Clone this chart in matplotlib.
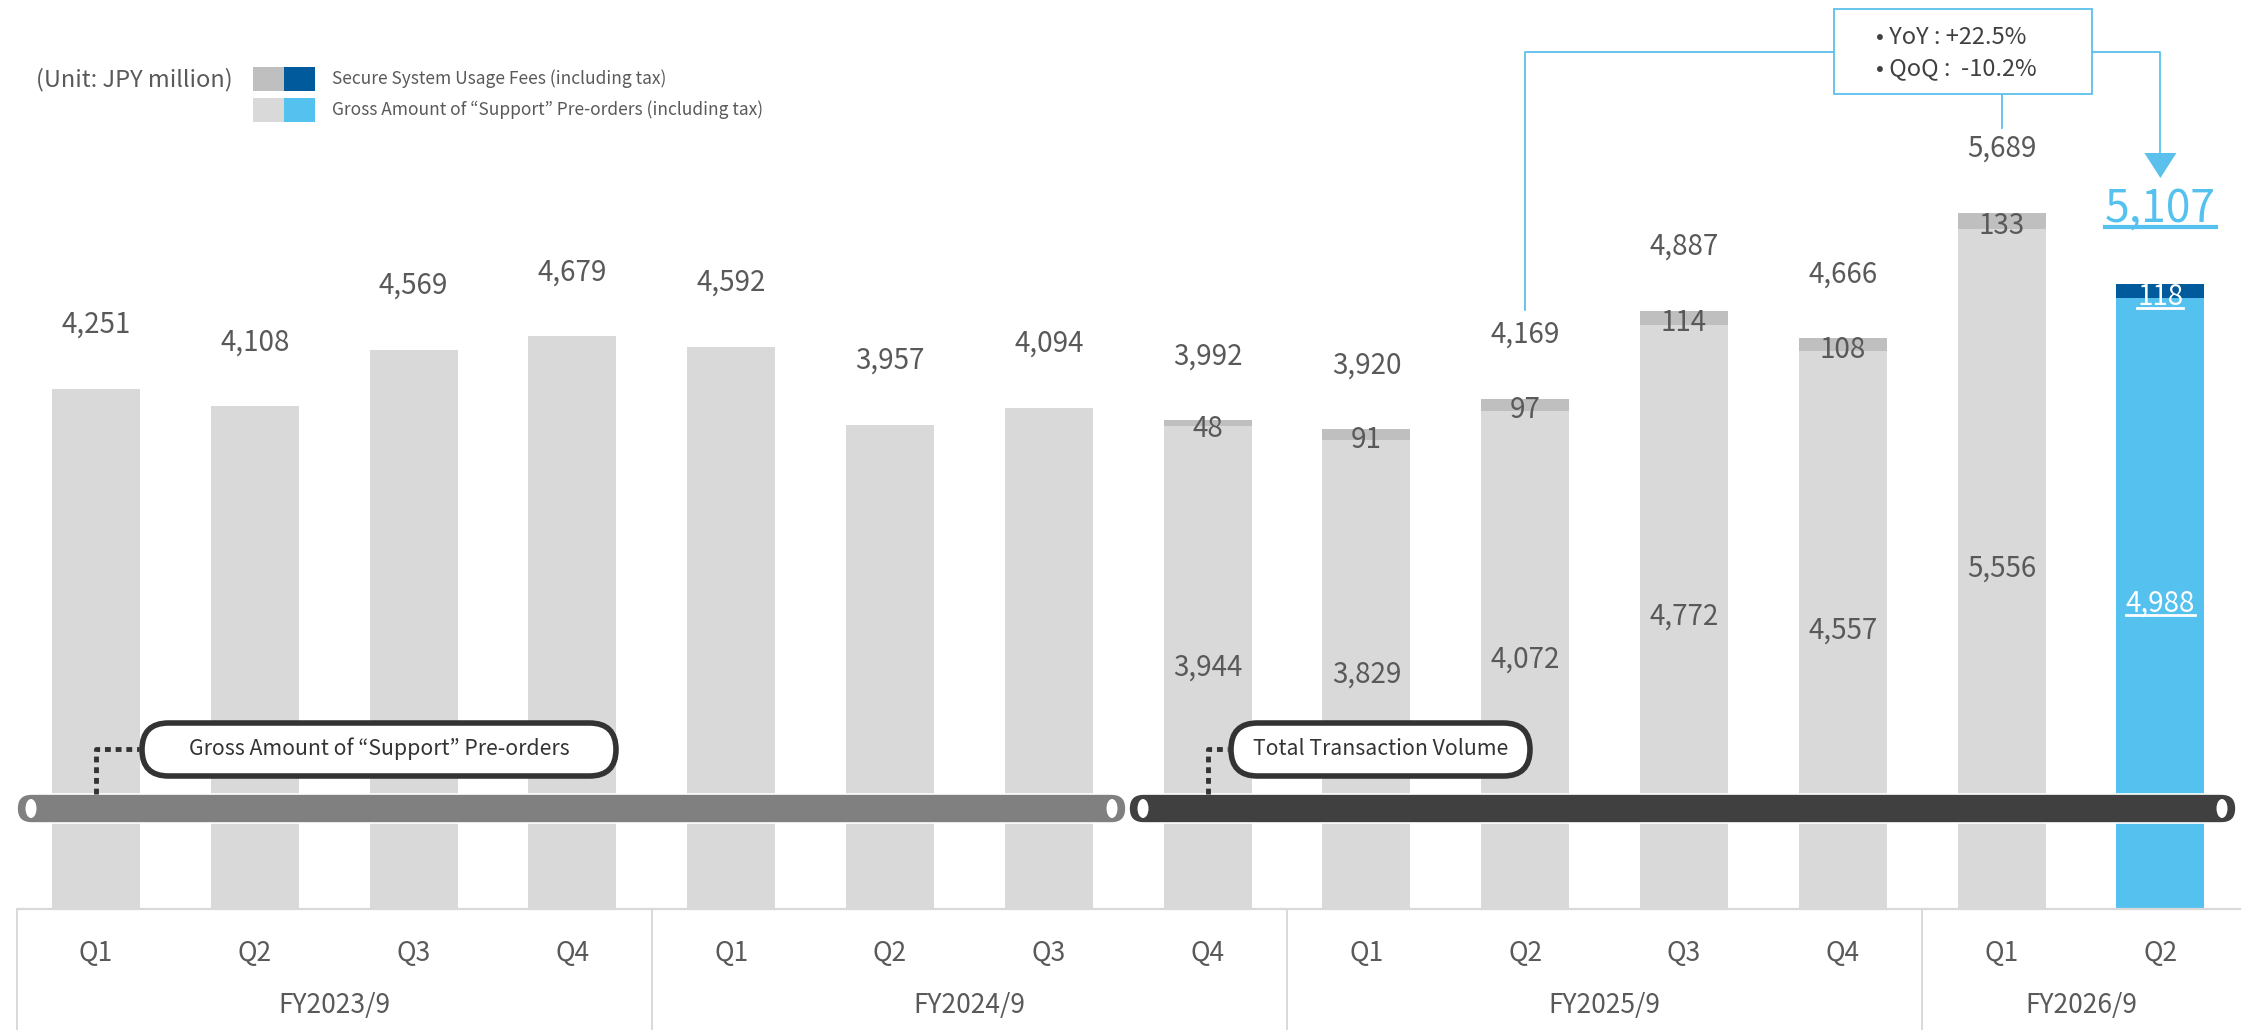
import matplotlib
matplotlib.use("Agg")
import matplotlib.pyplot as plt
import matplotlib.transforms as mtransforms
from matplotlib.patches import FancyBboxPatch, Rectangle, Ellipse, Polygon
from matplotlib.lines import Line2D

plt.rcParams['font.family'] = ['Noto Sans CJK JP', 'DejaVu Sans']

# --- data ---
quarters = ['Q1', 'Q2', 'Q3', 'Q4', 'Q1', 'Q2', 'Q3', 'Q4', 'Q1', 'Q2', 'Q3', 'Q4', 'Q1', 'Q2']
fiscal_years = ['FY2023/9', 'FY2024/9', 'FY2025/9', 'FY2026/9']
fy_counts = [4, 4, 4, 2]
preorders = [4251, 4108, 4569, 4679, 4592, 3957, 4094, 3944, 3829, 4072, 4772, 4557, 5556, 4988]
secure_fees = [0, 0, 0, 0, 0, 0, 0, 48, 91, 97, 114, 108, 133, 118]
totals = [4251, 4108, 4569, 4679, 4592, 3957, 4094, 3992, 3920, 4169, 4887, 4666, 5689, 5107]
yoy_text = '• YoY : +22.5%'
qoq_text = '• QoQ :  -10.2%'

# colours
GREY_LIGHT = '#D9D9D9'
GREY_MID = '#BFBFBF'
BLUE = '#55C1EE'
BLUE_DARK = '#005A9C'
TEXT = '#595959'
LINE_BLUE = '#5BC0EB'

W, H, DPI = 2255, 1030, 100
fig = plt.figure(figsize=(W / DPI, H / DPI), dpi=DPI)
ax = fig.add_axes([0, 0, 1, 1])
ax.axis('off')

# pixel mapping used for the axes limits (base line at y=909 px from top)
X0, DX = 96, 158.8
BASE, K = 909, 8.17
ax.set_xlim(-X0 / DX, (W - X0) / DX)
ax.set_ylim(-(H - BASE) * K, BASE * K)

# pixel transform (origin bottom-left) for decorations
PX = mtransforms.Affine2D().scale(1 / DPI) + fig.dpi_scale_trans
def fy(y):
    return H - y

n = len(quarters)
xs = list(range(n))
pre_colors = [GREY_LIGHT] * (n - 1) + [BLUE]
fee_colors = [GREY_MID] * (n - 1) + [BLUE_DARK]
ax.bar(xs, preorders, width=0.555, color=pre_colors, zorder=2)
ax.bar(xs, secure_fees, width=0.555, bottom=preorders, color=fee_colors, zorder=2)

underline = []
for i in xs:
    top = preorders[i] + secure_fees[i]
    if i == n - 1:
        t = ax.annotate(f'{totals[i]:,}', (i, top), xytext=(0, 54), textcoords='offset points',
                        ha='center', va='center', fontsize=32, color=BLUE, zorder=5)
        underline.append((t, BLUE, 3))
    else:
        ax.annotate(f'{totals[i]:,}', (i, top), xytext=(0, 46), textcoords='offset points',
                    ha='center', va='center', fontsize=20, color=TEXT, zorder=5)
    if secure_fees[i] > 0:
        col = 'white' if i == n - 1 else TEXT
        t = ax.annotate(f'{secure_fees[i]}', (i, preorders[i] + secure_fees[i] / 2),
                        xytext=(0, -4), textcoords='offset points',
                        ha='center', va='center', fontsize=20, color=col, zorder=5)
        if i == n - 1:
            underline.append((t, 'white', 2))
        t = ax.text(i, preorders[i] / 2, f'{preorders[i]:,}', ha='center', va='center',
                    fontsize=20, color=col, zorder=5)
        if i == n - 1:
            underline.append((t, 'white', 2))

# category axis with group separators
ax.plot([-0.5, 13.5], [0, 0], color=GREY_LIGHT, lw=1.6, zorder=3, clip_on=False)
ybot = -(H - BASE) * K
start = 0
for fyname, cnt in zip(fiscal_years, fy_counts):
    ax.plot([start - 0.5, start - 0.5], [0, ybot], color=GREY_LIGHT, lw=1.4, zorder=3)
    ax.text(start + (cnt - 1) / 2, -(1005 - BASE) * K, fyname, ha='center', va='center',
            fontsize=19, color=TEXT)
    start += cnt
for i, q in enumerate(quarters):
    ax.text(i, -(953 - BASE) * K, q, ha='center', va='center', fontsize=19, color=TEXT)

# timeline bars
def timeline(x0, x1, color):
    h = 29
    bar = FancyBboxPatch((x0, fy(823)), x1 - x0, h,
                         boxstyle=f'round,pad=0,rounding_size={h / 2}',
                         transform=PX, facecolor=color, edgecolor='white', lw=1.2, zorder=6)
    fig.add_artist(bar)
    for ex in (x0 + 14, x1 - 14):
        fig.add_artist(Ellipse((ex, fy(808.5)), 11, 19, transform=PX, facecolor='white',
                               edgecolor='none', zorder=7))

timeline(17, 1126, '#808080')
timeline(1129, 2236, '#404040')

# pill labels with dotted connectors
to_px = ax.transData
def pill(x0, x1, label, bar_idx):
    h = 53
    fig.add_artist(FancyBboxPatch((x0, fy(776)), x1 - x0, h,
                                  boxstyle=f'round,pad=0,rounding_size={h / 2}',
                                  transform=PX, facecolor='white', edgecolor='#333333',
                                  lw=4, zorder=6))
    fig.text((x0 + x1) / 2, fy(749), label, transform=PX, ha='center', va='center',
             fontsize=15.3, color='#333333', zorder=7)
    cx = to_px.transform((bar_idx, 0))[0]
    fig.add_artist(Line2D([cx, cx, x0 - 3], [fy(794), fy(749), fy(749)], transform=PX,
                          color='#333333', lw=3.5, ls=(0, (1.2, 1.0)), zorder=6))

pill(142, 616, 'Gross Amount of \u201cSupport\u201d Pre-orders', 0)
pill(1231, 1530, 'Total Transaction Volume', 7)

# unit + legend
fig.text(36, fy(80), '(Unit: JPY million)', transform=PX, ha='left', va='center',
         fontsize=17, color=TEXT)
legend_rows = [(GREY_MID, BLUE_DARK, 'Secure System Usage Fees (including tax)', 79),
               (GREY_LIGHT, BLUE, 'Gross Amount of \u201cSupport\u201d Pre-orders (including tax)', 110)]
for c1, c2, lab, yc in legend_rows:
    fig.add_artist(Rectangle((253, fy(yc + 12)), 31, 24, transform=PX, facecolor=c1, edgecolor='none'))
    fig.add_artist(Rectangle((284, fy(yc + 12)), 31, 24, transform=PX, facecolor=c2, edgecolor='none'))
    fig.text(332, fy(yc), lab, transform=PX, ha='left', va='center', fontsize=12.5, color=TEXT)

# YoY / QoQ callout
fig.add_artist(Rectangle((1834, fy(94)), 258, 85, transform=PX, facecolor='white',
                         edgecolor=LINE_BLUE, lw=1.3, zorder=6))
fig.text(1876, fy(37), yoy_text, transform=PX, ha='left', va='center', fontsize=17,
         color='#404040', zorder=7)
fig.text(1876, fy(69), qoq_text, transform=PX, ha='left', va='center', fontsize=17,
         color='#404040', zorder=7)
x_yoy = to_px.transform((9, 0))[0]
x_prev = to_px.transform((12, 0))[0]
x_cur = to_px.transform((13, 0))[0]
fig.add_artist(Line2D([x_yoy, x_yoy, 1834], [fy(310), fy(52), fy(52)], transform=PX,
                      color=LINE_BLUE, lw=1.3, zorder=5))
fig.add_artist(Line2D([x_prev, x_prev], [fy(94), fy(128)], transform=PX,
                      color=LINE_BLUE, lw=1.3, zorder=5))
fig.add_artist(Line2D([2092, x_cur, x_cur], [fy(52), fy(52), fy(155)], transform=PX,
                      color=LINE_BLUE, lw=1.3, zorder=5))
fig.add_artist(Polygon([[x_cur - 16, fy(153)], [x_cur + 16, fy(153)], [x_cur, fy(178)]],
                       closed=True, transform=PX, facecolor=LINE_BLUE, edgecolor='none', zorder=5))

# underlines for highlighted labels (just under the digits, not the font descent)
fig.canvas.draw()
renderer = fig.canvas.get_renderer()
for t, col, lw in underline:
    bb = t.get_window_extent(renderer)
    yline = bb.y0 + 0.12 * bb.height
    fig.add_artist(Line2D([bb.x0, bb.x1], [yline, yline], transform=mtransforms.IdentityTransform(),
                          color=col, lw=lw, zorder=8))

fig.savefig('out.png', dpi=DPI)
